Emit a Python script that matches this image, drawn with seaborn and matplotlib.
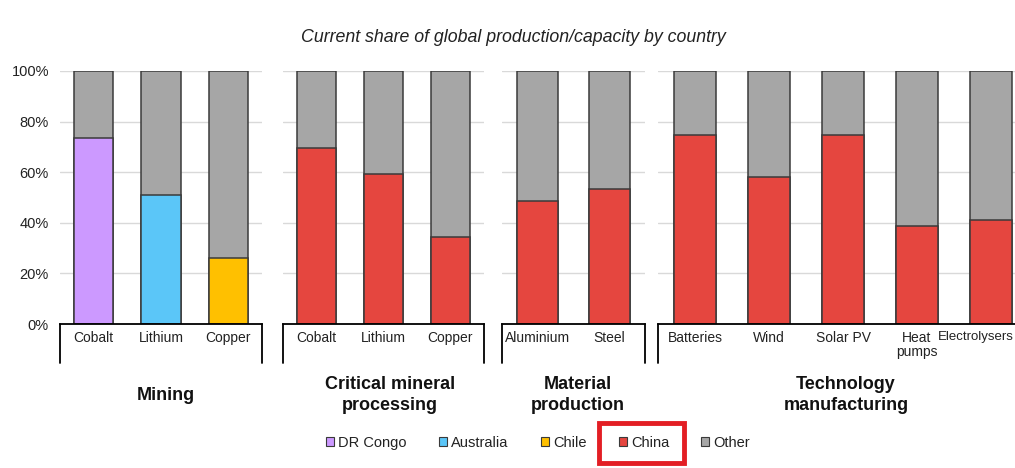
import matplotlib
matplotlib.use("Agg")
import matplotlib.pyplot as plt
import matplotlib.patches as mpatches
import matplotlib.transforms as mtransforms
from matplotlib.ticker import FuncFormatter
import seaborn as sns

# data (share of global production/capacity, %)
mining_items = ["Cobalt", "Lithium", "Copper"]
mining_leader = ["DR Congo", "Australia", "Chile"]
mining_share = [73.4, 50.9, 26.0]

processing_items = ["Cobalt", "Lithium", "Copper"]
processing_china = [69.4, 59.2, 34.5]

material_items = ["Aluminium", "Steel"]
material_china = [48.8, 53.3]

tech_items = ["Batteries", "Wind", "Solar PV", "Heat\npumps", "Electrolysers"]
tech_china = [74.7, 58.1, 74.7, 38.9, 41.0]

group_labels = ["Mining", "Critical mineral\nprocessing", "Material\nproduction",
                "Technology\nmanufacturing"]

colors = {"DR Congo": "#CC99FF", "Australia": "#5BC6F8", "Chile": "#FFC000",
          "China": "#E5463F", "Other": "#A6A6A6"}

sns.set_style("white")
plt.rcParams["font.family"] = ["Liberation Sans", "DejaVu Sans"]

W, H = 1015, 468
fig = plt.figure(figsize=(W / 100, H / 100), dpi=100)

# panel geometry in pixels: (left, right), and label centre
panels = [(60, 262), (283, 484), (502, 645), (658, 1028)]
label_x = [166, 390, 578, 846]
y0, y1 = 324, 71
edge = "#3a3a3a"
bw = 0.58

groups = [
    (mining_items, mining_share, mining_leader),
    (processing_items, processing_china, ["China"] * 3),
    (material_items, material_china, ["China"] * 2),
    (tech_items, tech_china, ["China"] * 5),
]

for i, ((l, r), (items, vals, who), glabel) in enumerate(zip(panels, groups, group_labels)):
    ax = fig.add_axes([l / W, 1 - y0 / H, (r - l) / W, (y0 - y1) / H])
    sns.barplot(x=items, y=[100] * len(items), color=colors["Other"], width=bw,
                edgecolor=edge, linewidth=1.1, saturation=1, ax=ax)
    sns.barplot(x=items, y=vals, hue=who, palette=colors, dodge=False, legend=False,
                width=bw, edgecolor=edge, linewidth=1.1, saturation=1, ax=ax)
    ax.set_xlim(-0.5, len(items) - 0.5)
    ax.set_ylim(0, 100)
    ax.set_yticks([0, 20, 40, 60, 80, 100])
    ax.yaxis.grid(True, color="#d9d9d9", lw=1)
    ax.set_axisbelow(True)
    for s in ["top", "left", "right"]:
        ax.spines[s].set_visible(False)
    ax.spines["bottom"].set_color("black")
    ax.spines["bottom"].set_linewidth(1.3)
    ax.tick_params(length=0, labelsize=10, pad=5, colors="#222222")
    ax.set_xlabel("")
    ax.set_ylabel("")
    if i == 0:
        ax.yaxis.set_major_formatter(FuncFormatter(lambda v, p: f"{v:.0f}%"))
        ax.tick_params(axis="y", labelsize=10.5, pad=8)
    else:
        ax.set_yticklabels([])
    for lab in ax.get_xticklabels():
        lab.set_linespacing(1.05)
    if i == 3:
        # keep the last label inside the canvas
        last = ax.get_xticklabels()[-1]
        last.set_fontsize(9.5)
        last.set_transform(last.get_transform() +
                           mtransforms.ScaledTranslation(-15 / 100, 0, fig.dpi_scale_trans))
    for xe in (0, 1):
        ax.plot([xe, xe], [0, -0.155], transform=ax.transAxes, color="black",
                lw=1.3, clip_on=False)
    fig.text(label_x[i] / W, 1 - 395 / H, glabel, ha="center", va="center",
             fontsize=13, fontweight="bold", color="#111111", linespacing=1.25)

fig.text(513 / W, 1 - 38 / H, "Current share of global production/capacity by country",
         ha="center", va="center", fontsize=12.8, style="italic", color="#222222")

handles = [mpatches.Patch(facecolor=colors[k], edgecolor=edge, lw=0.8) for k in colors]
fig.legend(handles, list(colors), loc="center", bbox_to_anchor=(538 / W, 1 - 443 / H),
           ncol=5, frameon=False, fontsize=10.5, handlelength=0.55, handleheight=0.55,
           handletextpad=0.3, columnspacing=2.2, labelcolor="#222222")

fig.patches.append(mpatches.Rectangle((599 / W, 1 - 463 / H), 85 / W, 40 / H,
                                      transform=fig.transFigure, fill=False,
                                      edgecolor="#E31E24", lw=3.5))

fig.savefig("out.png", dpi=100)
